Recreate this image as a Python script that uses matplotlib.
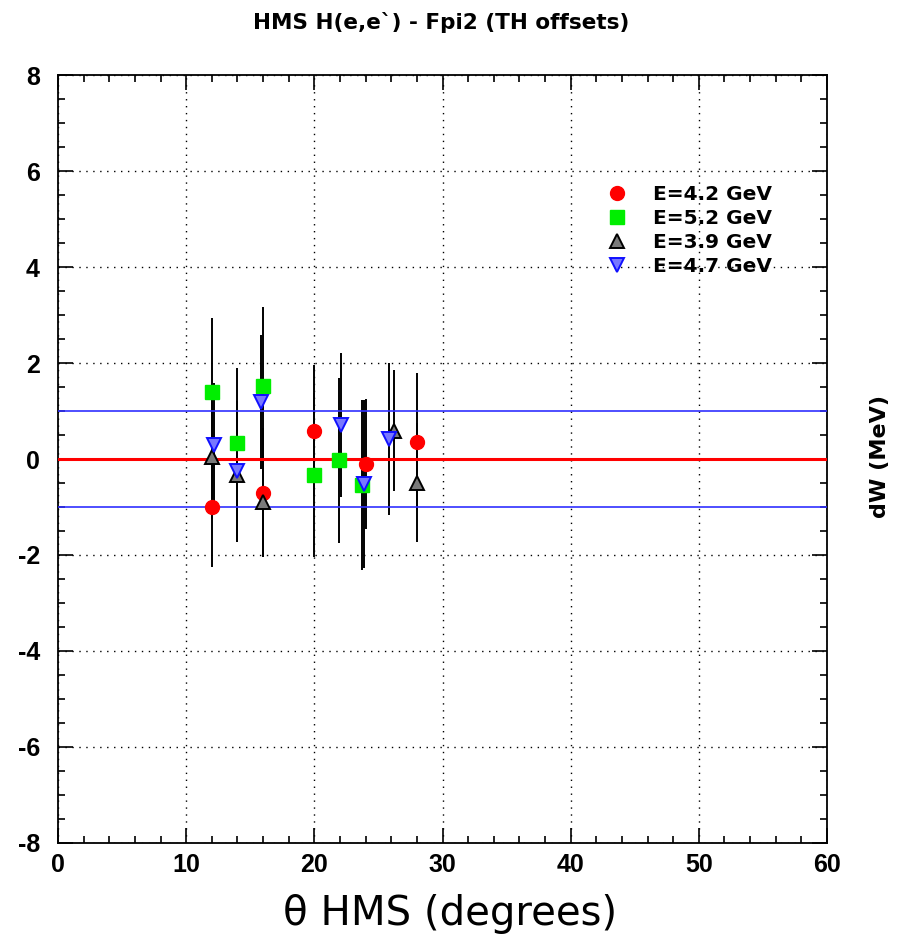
import matplotlib.pyplot as plt
from matplotlib.lines import Line2D
from matplotlib.ticker import MultipleLocator

plt.rcParams["axes.unicode_minus"] = False

# dW offsets vs HMS angle, one list per beam energy
theta_42 = [12.0, 16.0, 20.0, 24.0, 28.0]
dw_42 = [-1.00, -0.70, 0.59, -0.11, 0.36]
err_42 = [1.25, 1.34, 1.37, 1.35, 1.43]

theta_52 = [12.0, 14.0, 16.0, 20.0, 21.9, 23.7]
dw_52 = [1.40, 0.33, 1.52, -0.33, -0.03, -0.54]
err_52 = [1.54, 1.56, 1.65, 1.71, 1.72, 1.77]

theta_39 = [12.0, 14.0, 16.0, 26.2, 28.0]
dw_39 = [0.05, -0.33, -0.89, 0.59, -0.49]
err_39 = [1.30, 1.39, 1.15, 1.26, 1.23]

theta_47 = [12.2, 14.0, 15.8, 22.1, 23.9, 25.8]
dw_47 = [0.29, -0.26, 1.19, 0.71, -0.52, 0.41]
err_47 = [1.29, 1.46, 1.40, 1.50, 1.75, 1.58]

labels = ["E=4.2 GeV", "E=5.2 GeV", "E=3.9 GeV", "E=4.7 GeV"]

SANS = ["Liberation Sans", "DejaVu Sans"]
WIDE = ["DejaVu Sans"]

fig = plt.figure(figsize=(9.05, 9.4), dpi=100)
ax = fig.add_axes([58 / 905, 97 / 940, 769 / 905, 768 / 940])

series = [
    (theta_42, dw_42, err_42, dict(marker="o", color="#ff0000", mec="#ff0000", ms=10)),
    (theta_52, dw_52, err_52, dict(marker="s", color="#00ee00", mec="#00ee00", ms=10)),
    (theta_39, dw_39, err_39, dict(marker="^", color="#7a7a7a", mec="black", ms=10, mew=1.4)),
    (theta_47, dw_47, err_47, dict(marker="v", color="#7878ff", mec="#1010ff", ms=10, mew=1.4)),
]

for x, y, e, style in series:
    ax.errorbar(x, y, yerr=e, fmt="none", ecolor="black", elinewidth=1.4,
                capsize=0, zorder=2)
for x, y, e, style in series:
    ax.plot(x, y, linestyle="none", zorder=4, **style)

ax.axhline(0, color="#ff0000", lw=2.2, zorder=3)
ax.axhline(1, color="#3030ff", lw=1.2, zorder=3)
ax.axhline(-1, color="#3030ff", lw=1.2, zorder=3)

ax.set_xlim(0, 60)
ax.set_ylim(-8, 8)
ax.xaxis.set_major_locator(MultipleLocator(10))
ax.xaxis.set_minor_locator(MultipleLocator(2))
ax.yaxis.set_major_locator(MultipleLocator(2))
ax.yaxis.set_minor_locator(MultipleLocator(0.5))
ax.grid(True, which="major", color="black", linestyle=(0, (1, 4)), lw=1.0)
ax.tick_params(which="both", direction="in", top=True, right=True,
               width=1.2, colors="black")
ax.tick_params(which="major", length=11)
ax.tick_params(which="minor", length=5)
ax.tick_params(axis="y", pad=13)
ax.tick_params(axis="x", pad=7)
for sp in ax.spines.values():
    sp.set_linewidth(1.3)

for lab in ax.get_xticklabels() + ax.get_yticklabels():
    lab.set_family(SANS)
    lab.set_fontweight("bold")
    lab.set_fontsize(18)

handles = [Line2D([], [], linestyle="none", **s[3]) for s in series]
ax.legend(handles, labels, loc="upper left", bbox_to_anchor=(0.69, 0.878),
          frameon=False, handletextpad=1.2, labelspacing=0.25,
          prop=dict(family=WIDE, weight="bold", size=14.5), handlelength=1.2,
          borderpad=0.3)

fig.text(0.487, 0.976, "HMS H(e,e`) - Fpi2 (TH offsets)", ha="center",
         va="center", family=WIDE, fontweight="bold", fontsize=15.5)
fig.text(0.497, 0.016, "θ HMS (degrees)", ha="center", va="baseline",
         family=WIDE, fontsize=29)
fig.text(0.972, 0.514, "dW (MeV)", ha="center", va="center", rotation=90,
         family=WIDE, fontweight="bold", fontsize=16)

fig.savefig("out.png", dpi=100)
